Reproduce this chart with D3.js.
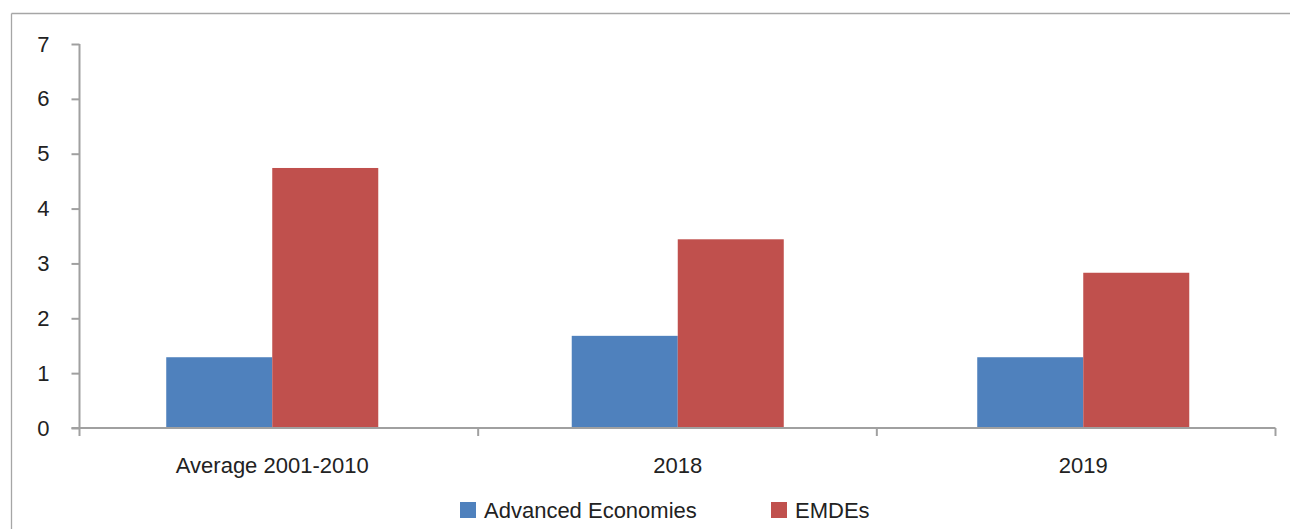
<!DOCTYPE html>
<html>
<head>
<meta charset="utf-8">
<script src="https://cdn.jsdelivr.net/npm/d3@7"></script>
<style>
  html, body { margin: 0; padding: 0; background: #fff; }
  svg { display: block; }
  text { font-family: "Liberation Sans", Arial, sans-serif; fill: #222; }
</style>
</head>
<body>
<svg id="chart" width="1290" height="529"></svg>
<script>
const categories = ["Average 2001-2010", "2018", "2019"];
const seriesNames = ["Advanced Economies", "EMDEs"];
const advancedValues = [1.29, 1.68, 1.29];
const emdeValues = [4.74, 3.44, 2.83];
const yTicks = [0, 1, 2, 3, 4, 5, 6, 7];
const colors = ["#4f81bd", "#c0504d"];

const svg = d3.select("#chart");
const W = 1290, H = 529;
const axisColor = "#a0a0a0";
const fontSize = "22px";

// outer frame (left and top edges visible)
svg.append("line").attr("x1", 11.5).attr("x2", 11.5).attr("y1", 13.5).attr("y2", H + 2)
  .attr("stroke", "#a6a6a6").attr("stroke-width", 1.3);
svg.append("line").attr("x1", 11.5).attr("x2", W + 2).attr("y1", 13.5).attr("y2", 13.5)
  .attr("stroke", "#a6a6a6").attr("stroke-width", 1.3);

const plotLeft = 79.5, plotRight = 1275.5, plotTop = 44, plotBottom = 428;

const y = d3.scaleLinear().domain([0, 7]).range([plotBottom, plotTop]);
const xAxisBand = d3.scaleBand().domain(categories).range([plotLeft, plotRight]);
const xBar = d3.scaleBand().domain(categories).range([69.5, 1286]);
const xInner = d3.scaleBand().domain(seriesNames).range([0, xBar.bandwidth()])
  .paddingInner(0).paddingOuter(0.9125);

const data = categories.map((c, i) => ({
  category: c,
  values: [
    { series: seriesNames[0], value: advancedValues[i] },
    { series: seriesNames[1], value: emdeValues[i] }
  ]
}));

// bars
const groups = svg.append("g").selectAll("g").data(data).join("g")
  .attr("transform", d => `translate(${xBar(d.category)},0)`);
groups.selectAll("rect").data(d => d.values).join("rect")
  .attr("x", d => xInner(d.series))
  .attr("width", xInner.bandwidth())
  .attr("y", d => y(d.value))
  .attr("height", d => y(0) - y(d.value))
  .attr("fill", (d, i) => colors[i]);

// y axis
const yAxis = d3.axisLeft(y).tickValues(yTicks).tickSize(8).tickPadding(22).tickFormat(d3.format("d"));
const gy = svg.append("g").attr("transform", `translate(${plotLeft},0)`).call(yAxis);
gy.select(".domain").remove();
gy.selectAll(".tick line").attr("stroke", axisColor).attr("stroke-width", 2);
gy.selectAll(".tick text").style("font-size", fontSize).attr("fill", "#222");
svg.append("line").attr("x1", plotLeft).attr("x2", plotLeft).attr("y1", plotTop).attr("y2", plotBottom + 8)
  .attr("stroke", axisColor).attr("stroke-width", 2);

// x axis line
svg.append("line").attr("x1", plotLeft - 8).attr("x2", plotRight).attr("y1", plotBottom).attr("y2", plotBottom)
  .attr("stroke", axisColor).attr("stroke-width", 2);
// boundary ticks
const boundaries = categories.map(c => xAxisBand(c)).concat([plotRight]);
svg.append("g").selectAll("line").data(boundaries.slice(1)).join("line")
  .attr("x1", d => d).attr("x2", d => d)
  .attr("y1", plotBottom).attr("y2", plotBottom + 8)
  .attr("stroke", axisColor).attr("stroke-width", 2);

// x labels at bar-group centers
const xAxis = d3.axisBottom(xBar).tickSize(0).tickPadding(0);
const gx = svg.append("g").attr("transform", `translate(0,${plotBottom})`).call(xAxis);
gx.select(".domain").remove();
gx.selectAll(".tick text").style("font-size", fontSize).attr("fill", "#222")
  .attr("dy", null).attr("y", 45);

// legend
const legendItems = [
  { name: seriesNames[0], color: colors[0], x: 460 },
  { name: seriesNames[1], color: colors[1], x: 771 }
];
const lg = svg.append("g").selectAll("g").data(legendItems).join("g")
  .attr("transform", d => `translate(${d.x},502)`);
lg.append("rect").attr("width", 16).attr("height", 16).attr("fill", d => d.color);
lg.append("text").attr("x", 24).attr("y", 16).style("font-size", fontSize).text(d => d.name);
</script>
</body>
</html>
